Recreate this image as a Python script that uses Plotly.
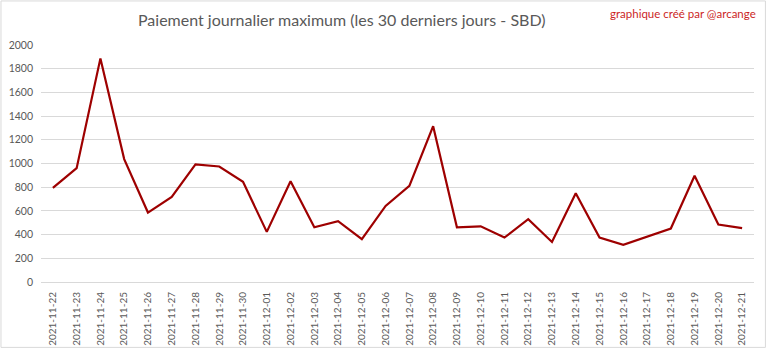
import plotly.graph_objects as go

dates = ["2021-11-22","2021-11-23","2021-11-24","2021-11-25","2021-11-26","2021-11-27",
         "2021-11-28","2021-11-29","2021-11-30","2021-12-01","2021-12-02","2021-12-03",
         "2021-12-04","2021-12-05","2021-12-06","2021-12-07","2021-12-08","2021-12-09",
         "2021-12-10","2021-12-11","2021-12-12","2021-12-13","2021-12-14","2021-12-15",
         "2021-12-16","2021-12-17","2021-12-18","2021-12-19","2021-12-20","2021-12-21"]
payout = [794, 961, 1887, 1037, 586, 718, 992, 975, 845, 423, 851, 462, 513, 361, 642,
          811, 1315, 462, 470, 375, 530, 338, 749, 375, 313, 383, 451, 896, 485, 454]
yticks = [0, 200, 400, 600, 800, 1000, 1200, 1400, 1600, 1800, 2000]

title_text = "Paiement journalier maximum (les 30 derniers jours - SBD)"
credit_text = "graphique créé par @arcange"

W, H = 768, 349
L, R, T, B = 41, 753.6, 45, 281.7
pw, ph = R - L, B - T

def px(x):
    return (x - L) / pw

def py(y):
    return (B - y) / ph

fig = go.Figure()
fig.add_trace(go.Scatter(x=dates, y=payout, mode="lines",
                         line=dict(color="#9E0000", width=2.2),
                         hoverinfo="x+y"))

font_main = "Lato, Calibri, 'Open Sans', sans-serif"

fig.update_layout(
    width=W, height=H,
    margin=dict(l=L, r=W - R, t=T, b=H - B, pad=0, autoexpand=False),
    paper_bgcolor="white", plot_bgcolor="white",
    showlegend=False,
    font=dict(family=font_main, color="#595959"),
    xaxis=dict(type="category", range=[-0.5, len(dates) - 0.5],
               tickangle=-90, showgrid=False, automargin=False,
               showline=True, linecolor="#D9D9D9", linewidth=1,
               ticks="", tickfont=dict(size=10, color="#595959"),
               ticklabelstandoff=5, fixedrange=True),
    yaxis=dict(range=[0, 2000], tickvals=yticks, showgrid=True, automargin=False,
               gridcolor="#D9D9D9", gridwidth=1, zeroline=False,
               showline=False, ticks="", tickfont=dict(size=10.5, color="#595959"),
               ticklabelstandoff=7, fixedrange=True),
    annotations=[
        dict(text=title_text, xref="paper", yref="paper",
             x=px(342), y=py(20), xanchor="center", yanchor="middle",
             showarrow=False, font=dict(size=16, color="#595959", family=font_main)),
        dict(text=credit_text, xref="paper", yref="paper",
             x=px(758), y=py(13.5), xanchor="right", yanchor="middle",
             showarrow=False, font=dict(size=11.5, color="#CC1F1F", family=font_main)),
    ],
    shapes=[
        dict(type="rect", xref="paper", yref="paper",
             x0=px(1), x1=px(765), y0=py(347), y1=py(1),
             line=dict(color="#D9D9D9", width=1), fillcolor="rgba(0,0,0,0)",
             layer="below"),
    ],
)

fig.write_html("out.html")
